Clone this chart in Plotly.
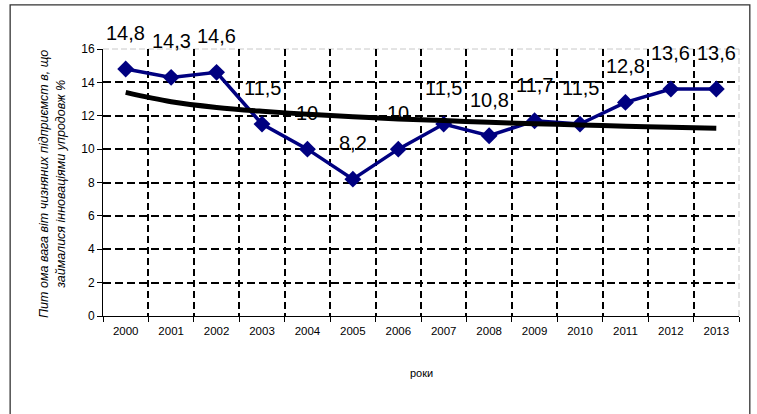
import plotly.graph_objects as go

years = ["2000", "2001", "2002", "2003", "2004", "2005", "2006",
         "2007", "2008", "2009", "2010", "2011", "2012", "2013"]
share = [14.8, 14.3, 14.6, 11.5, 10, 8.2, 10, 11.5, 10.8, 11.7, 11.5, 12.8, 13.6, 13.6]
labels = ["14,8", "14,3", "14,6", "11,5", "10", "8,2", "10", "11,5", "10,8",
          "11,7", "11,5", "12,8", "13,6", "13,6"]
trend = [13.40, 12.84, 12.50, 12.27, 12.09, 11.94, 11.81, 11.71, 11.61,
         11.52, 11.45, 11.37, 11.31, 11.25]
y_ticks = [0, 2, 4, 6, 8, 10, 12, 14, 16]
y_grid = [2, 4, 6, 8, 10, 12, 14]

FONT = "Liberation Sans, Arial, sans-serif"

fig = go.Figure()

fig.add_trace(go.Scatter(x=[None], y=[None], xaxis="x2", yaxis="y2",
                         showlegend=False, hoverinfo="skip"))

fig.add_trace(go.Scatter(
    x=years, y=share, mode="lines+markers",
    line=dict(color="#000080", width=3.5),
    marker=dict(symbol="diamond", size=13, color="#000080"),
    showlegend=False))

fig.add_trace(go.Scatter(
    x=years, y=trend, mode="lines",
    line=dict(color="black", width=5, shape="spline"),
    showlegend=False))

for i, (v, t) in enumerate(zip(share, labels)):
    fig.add_annotation(x=i, y=v, xref="x", yref="y", text=t, showarrow=False,
                       yshift=36, font=dict(family=FONT, size=20, color="black"))

fig.add_annotation(xref="paper", yref="paper", x=0.5, y=-0.215,
                   text="роки", showarrow=False, yanchor="middle",
                   font=dict(family=FONT, size=11, color="black"))

fig.add_annotation(xref="paper", yref="paper", x=-0.08, y=0.495,
                   text="<i>Пит ома вага віт чизняних підприємст в, що<br>займалися інноваціями упродовж %</i>",
                   showarrow=False, textangle=-90, xanchor="center", yanchor="middle",
                   font=dict(family=FONT, size=12.5, color="black"))

fig.add_shape(type="line", xref="paper", yref="paper", x0=0, x1=1, y0=1, y1=1,
              line=dict(color="#c8c8c8", width=1, dash="6px,3px"), layer="below")
fig.add_shape(type="line", xref="paper", yref="paper", x0=1, x1=1, y0=0, y1=1,
              line=dict(color="#c8c8c8", width=1, dash="6px,3px"), layer="below")
fig.add_shape(type="rect", xref="paper", yref="paper",
              x0=-0.146, x1=1.017, y0=-0.4, y1=1.165,
              line=dict(color="#333333", width=1.3), fillcolor="rgba(0,0,0,0)")

fig.update_layout(
    width=757, height=414,
    margin=dict(l=103, r=18, t=49, b=98),
    paper_bgcolor="white", plot_bgcolor="white",
    font=dict(family=FONT, color="black"),
    xaxis=dict(type="category", categoryorder="array", categoryarray=years,
               range=[-0.5, 13.5], tickson="boundaries", ticks="outside",
               ticklen=5, tickcolor="black", showgrid=False, showline=True,
               linecolor="black", linewidth=1, zeroline=False,
               ticklabelstandoff=4,
               tickfont=dict(size=11.5, family=FONT)),
    yaxis=dict(range=[0, 16], tickvals=y_ticks, ticks="outside", ticklen=5,
               tickcolor="black", showgrid=False, showline=True, linecolor="black",
               linewidth=1, zeroline=False, tickfont=dict(size=12, family=FONT)),
    xaxis2=dict(overlaying="x", range=[-0.5, 13.5],
                tickvals=[i + 0.5 for i in range(len(years) - 1)],
                showticklabels=False, ticks="", showgrid=True, gridcolor="black",
                gridwidth=2, griddash="7px,4px", zeroline=False, showline=False),
    yaxis2=dict(overlaying="y", range=[0, 16], tickvals=y_grid,
                showticklabels=False, ticks="", showgrid=True, gridcolor="black",
                gridwidth=2, griddash="8px,4px", zeroline=False, showline=False),
)

fig.write_html("out.html", config={"displayModeBar": False},
               post_script="document.body.style.margin='0';document.body.style.overflow='hidden';")
